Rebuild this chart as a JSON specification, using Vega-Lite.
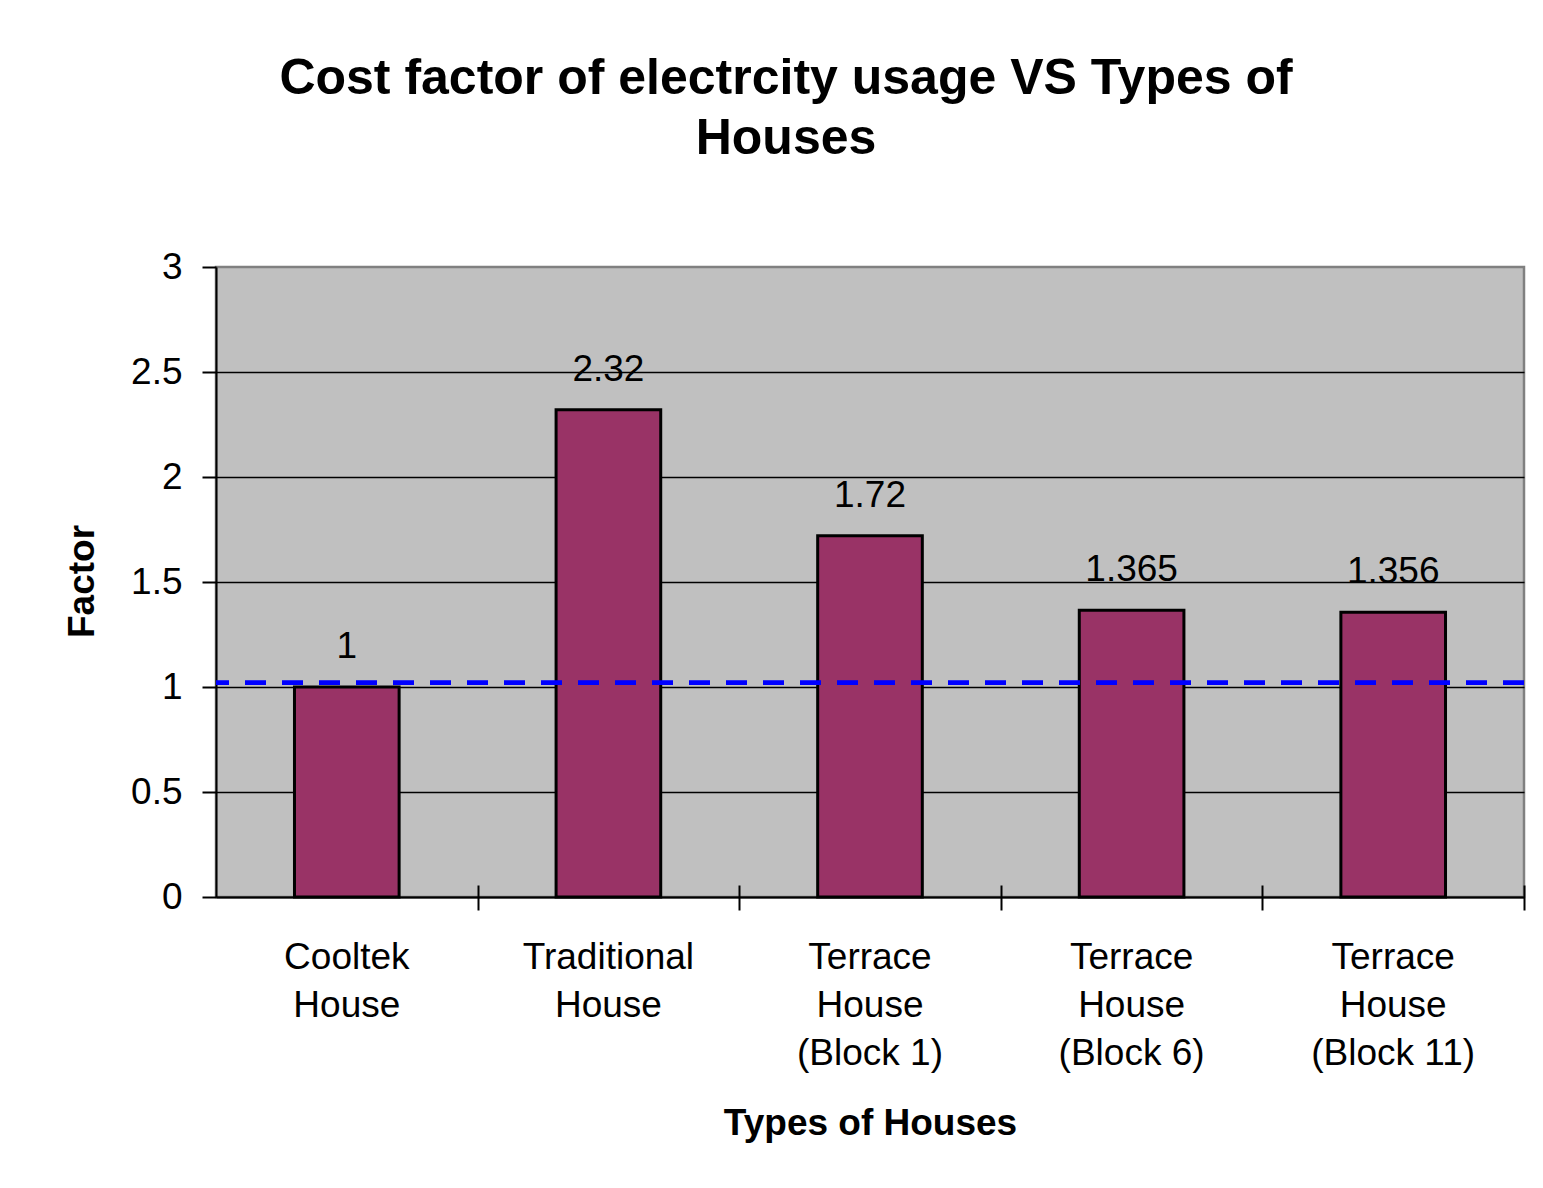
{
  "$schema": "https://vega.github.io/schema/vega-lite/v6.json",
  "width": 1308,
  "height": 630,
  "autosize": {"type": "none"},
  "padding": {"left": 216, "top": 267, "right": 19, "bottom": 291},
  "background": "white",
  "title": {
    "text": ["Cost factor of electrcity usage VS Types of", "Houses"],
    "fontSize": 50,
    "fontWeight": "bold",
    "lineHeight": 60,
    "anchor": "middle",
    "dx": -84,
    "offset": 84,
    "color": "black"
  },
  "config": {
    "font": "Liberation Sans",
    "view": {"fill": "#C0C0C0", "stroke": "#808080", "strokeWidth": 2.5}
  },
  "data": {
    "values": [
      {"house": "Cooltek\nHouse", "factor": 1},
      {"house": "Traditional\nHouse", "factor": 2.32},
      {"house": "Terrace\nHouse\n(Block 1)", "factor": 1.72},
      {"house": "Terrace\nHouse\n(Block 6)", "factor": 1.365},
      {"house": "Terrace\nHouse\n(Block 11)", "factor": 1.356}
    ]
  },
  "resolve": {"axis": {"x": "independent"}},
  "layer": [
    {
      "mark": {"type": "bar", "color": "#993366", "stroke": "black", "strokeWidth": 3},
      "encoding": {
        "x": {
          "field": "house",
          "type": "nominal",
          "sort": null,
          "scale": {"paddingInner": 0.6, "paddingOuter": 0.3},
          "axis": {
            "orient": "bottom",
            "labelExpr": "split(datum.label, '\\n')",
            "labelAngle": 0,
            "labelFontSize": 37,
            "labelLineHeight": 48,
            "labelBaseline": "alphabetic",
            "labelPadding": 71,
            "labelColor": "black",
            "labelLimit": 0,
            "ticks": false,
            "domainColor": "black",
            "domainWidth": 2,
            "grid": false,
            "title": "Types of Houses",
            "titleFontSize": 37,
            "titleFontWeight": "bold",
            "titleColor": "black",
            "titleBaseline": "alphabetic",
            "titleY": 237
          }
        },
        "y": {
          "field": "factor",
          "type": "quantitative",
          "scale": {"domain": [0, 3], "nice": false},
          "axis": {
            "values": [0, 0.5, 1, 1.5, 2, 2.5, 3],
            "format": "~g",
            "labelFontSize": 37,
            "labelColor": "black",
            "labelPadding": 20,
            "tickSize": 14,
            "tickWidth": 2,
            "tickColor": "black",
            "domainColor": "black",
            "domainWidth": 2,
            "grid": true,
            "gridColor": "black",
            "gridWidth": 1.5,
            "gridOpacity": {"condition": {"test": "datum.value === 3", "value": 0}, "value": 1},
            "title": "Factor",
            "titleFontSize": 37,
            "titleFontWeight": "bold",
            "titleColor": "black",
            "titleAngle": 270,
            "titleBaseline": "alphabetic",
            "titleAlign": "center",
            "titleX": -123,
            "titleY": 314
          }
        }
      }
    },
    {
      "mark": {"type": "rule", "color": "#0000FF", "strokeWidth": 4, "strokeDash": [21, 16]},
      "encoding": {
        "y": {"datum": 1.02, "type": "quantitative"}
      }
    },
    {
      "mark": {"type": "text", "fontSize": 37, "color": "black", "baseline": "alphabetic", "dy": -29},
      "encoding": {
        "x": {
          "field": "house",
          "type": "nominal",
          "sort": null,
          "axis": {
            "orient": "bottom",
            "offset": -12,
            "tickSize": 25,
            "tickWidth": 2,
            "tickColor": "black",
            "tickOffset": 130.8,
            "labels": false,
            "domain": false,
            "grid": false,
            "title": null
          }
        },
        "y": {"field": "factor", "type": "quantitative"},
        "text": {"field": "factor", "type": "quantitative"}
      }
    }
  ]
}
